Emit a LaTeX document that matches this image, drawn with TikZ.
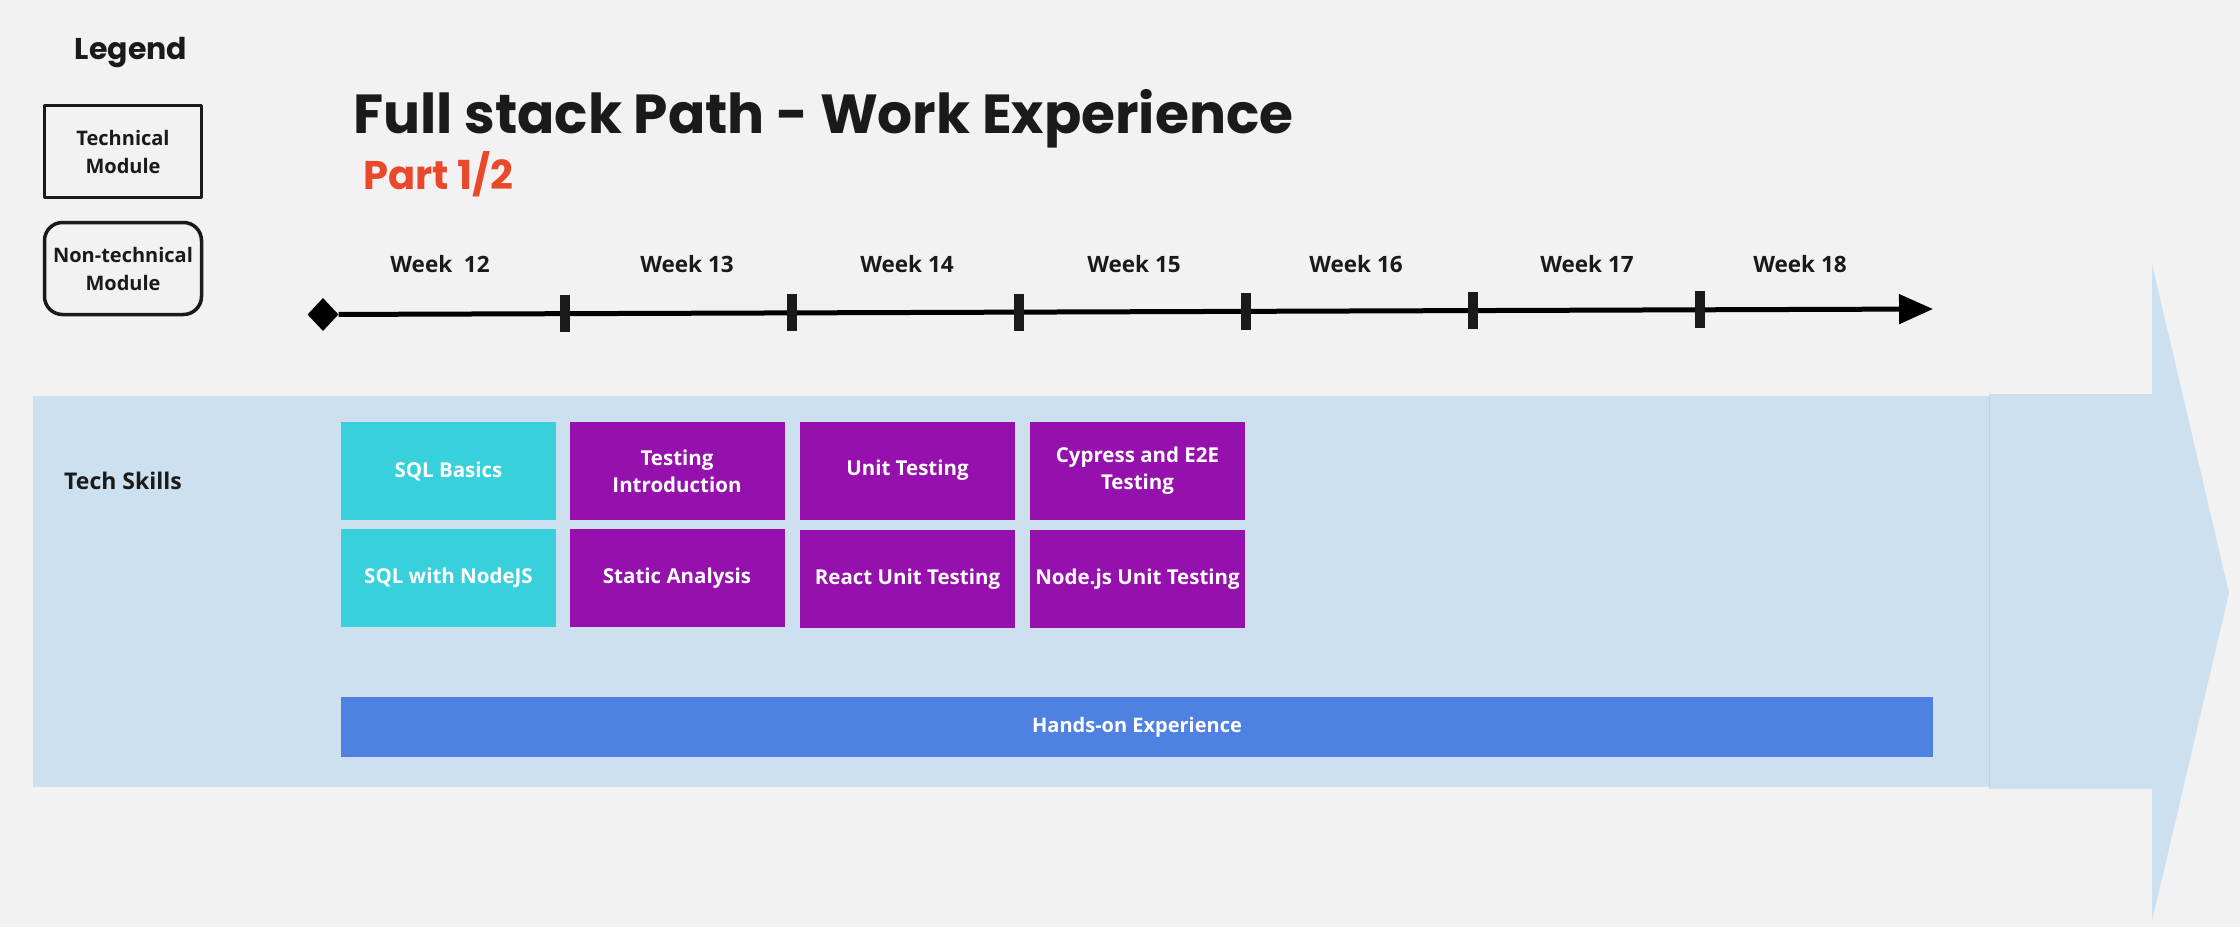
\documentclass[tikz,border=0pt]{standalone}
\usepackage{fontspec}
\setmainfont{Open Sans}
\newfontfamily\titlefont{Poppins}
\usetikzlibrary{arrows.meta,shapes.geometric}
\definecolor{pagebg}{RGB}{242,242,242}
\definecolor{inkdark}{RGB}{26,26,26}
\definecolor{partred}{RGB}{234,72,42}
\definecolor{skillbg}{RGB}{204,224,240}
\definecolor{sqlcyan}{RGB}{56,208,218}
\definecolor{testpurple}{RGB}{149,16,172}
\definecolor{handsblue}{RGB}{79,129,227}
\begin{document}
\begin{tikzpicture}[x=1pt,y=-1pt,line cap=round,line join=round,
  module/.style={minimum width=215pt,minimum height=98pt,inner sep=0pt,text=white,align=center,font=\bfseries\fontsize{20.5}{27}\selectfont},
  sqlmod/.style={module,fill=sqlcyan},
  testmod/.style={module,fill=testpurple},
  weeklabel/.style={anchor=base,inner sep=0pt,text=inkdark,font=\bfseries\fontsize{22.5}{28}\selectfont},
  legendbox/.style={draw=inkdark,line width=3.5pt,minimum width=157pt,minimum height=92pt,inner sep=0pt,align=center,text=inkdark,font=\bfseries\fontsize{20}{28}\selectfont},
  tick/.style={line width=10pt,line cap=butt,draw=inkdark}]
  \path[use as bounding box,fill=pagebg] (0,0) rectangle (2240,927);
  % big background arrow
  \fill[skillbg] (33,396) rectangle (1989,787);
  \fill[skillbg] (1989,394) rectangle (2153,789);
  \fill[skillbg] (2152,264) -- (2229,593) -- (2152,921) -- cycle;
  \draw[skillbg!94!black,line width=0.8pt,line cap=butt] (1989,394) -- (1989,789);
  % legend
  \node[anchor=base,inner sep=0pt,text=inkdark,font=\titlefont\bfseries\fontsize{30}{32}\selectfont] (legend) at (131,59) {Legend};
  \node[legendbox] (legtech) at (123,151.5) {Technical\\Module};
  \node[legendbox,rounded corners=18pt] (legnontech) at (123,268.5) {Non-technical\\Module};
  % title
  \node[anchor=base west,inner sep=0pt,text=inkdark,font=\titlefont\bfseries\fontsize{55}{60}\selectfont] (title) at (353,133) {Full stack Path - Work Experience};
  \node[anchor=base west,inner sep=0pt,text=partred,font=\titlefont\bfseries\fontsize{40}{44}\selectfont] (part) at (363,189) {Part 1/2};
  % timeline
  \node[diamond,fill=black,inner sep=0pt,minimum width=31pt,minimum height=33pt] (tlstart) at (323,314.5) {};
  \coordinate (tlend) at (1933,309);
  \draw[line width=5pt,line cap=butt,-{Triangle[length=34pt,width=29pt]}] (tlstart) -- (tlend);
  \foreach \tx in {565,792,1019,1246,1473,1700}
    \draw[tick] (\tx,{314.5-5.5*(\tx-323)/1610-18.5}) -- ++(0,37);
  \node[weeklabel] (w12) at (440,272) {Week\ \ 12};
  \node[weeklabel] (w13) at (687,272) {Week 13};
  \node[weeklabel] (w14) at (907,272) {Week 14};
  \node[weeklabel] (w15) at (1134,272) {Week 15};
  \node[weeklabel] (w16) at (1356,272) {Week 16};
  \node[weeklabel] (w17) at (1587,272) {Week 17};
  \node[weeklabel] (w18) at (1800,272) {Week 18};
  % tech skills lane
  \node[anchor=base west,inner sep=0pt,text=inkdark,font=\bfseries\fontsize{23}{26}\selectfont] (techskills) at (64,489) {Tech Skills};
  \node[sqlmod] (sqlbasics) at (448.5,471) {SQL Basics};
  \node[sqlmod] (sqlnode) at (448.5,578) {SQL with NodeJS};
  \node[testmod] (testintro) at (677,471) {Testing\\Introduction};
  \node[testmod] (staticana) at (677,578) {Static Analysis};
  \node[testmod] (unittest) at (907.5,470.5) {Unit Testing};
  \node[testmod] (reactunit) at (907.5,579) {React Unit Testing};
  \node[testmod] (cypress) at (1137.5,470.5) {Cypress and E2E\\Testing};
  \node[testmod] (nodeunit) at (1137.5,579) {Node.js Unit Testing};
  \node[fill=handsblue,minimum width=1592pt,minimum height=60pt,inner sep=0pt,text=white,font=\bfseries\fontsize{20}{24}\selectfont] (handson) at (1137,727) {Hands-on Experience};
\end{tikzpicture}
\end{document}
